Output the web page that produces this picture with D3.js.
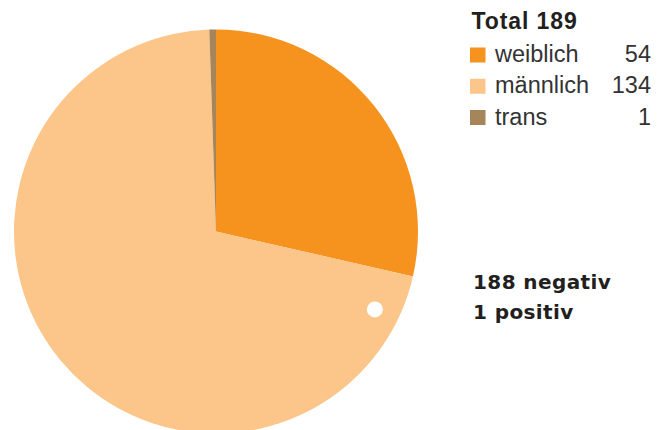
<!DOCTYPE html>
<html>
<head>
<meta charset="utf-8">
<script src="https://cdn.jsdelivr.net/npm/d3@7"></script>
<style>
  html, body { margin: 0; padding: 0; background: #fff; }
  svg { display: block; }
  text { font-family: "Liberation Sans", Arial, sans-serif; fill: #231f20; }
</style>
</head>
<body>
<svg id="chart" width="666" height="430"></svg>
<script>
// Gender breakdown of tested people
const categories = ["weiblich", "männlich", "trans"];
const counts = [54, 134, 1];
const colors = ["#f6921e", "#fcc589", "#a6855a"];
const total = 189;
const resultLabels = ["188 negativ", "1 positiv"];
const positiveCount = 1;
const positiveGroup = "männlich";

const svg = d3.select("#chart");
const cx = 216, cy = 231.5, R = 202;

const data = categories.map((c, i) => ({ name: c, value: counts[i], color: colors[i] }));

const pie = d3.pie().sort(null).value(d => d.value).startAngle(0).endAngle(2 * Math.PI);
const arcs = pie(data);
const arc = d3.arc().innerRadius(0).outerRadius(R);

const g = svg.append("g").attr("transform", `translate(${cx},${cy})`);
g.selectAll("path")
  .data(arcs)
  .join("path")
  .attr("d", arc)
  .attr("fill", d => d.data.color);

// white dot marking the positive result, placed inside its group's slice
const posArc = arcs.find(a => a.data.name === positiveGroup);
const dotAngle = posArc.startAngle + (posArc.endAngle - posArc.startAngle) * 0.052;
const [dx, dy] = d3.pointRadial(dotAngle, R * 0.876);
g.selectAll("circle.pos")
  .data(d3.range(positiveCount))
  .join("circle")
  .attr("class", "pos")
  .attr("cx", dx)
  .attr("cy", dy)
  .attr("r", 8)
  .attr("fill", "#fff");

// legend
const lg = svg.append("g");
lg.append("text")
  .attr("x", 471.5)
  .attr("y", 29)
  .attr("font-size", 23)
  .attr("font-weight", "bold")
  .attr("letter-spacing", 0.9)
  .text(`Total ${total}`);

const rowY = d3.scalePoint().domain(categories).range([62, 124.5]);
const rows = lg.selectAll("g.row")
  .data(data)
  .join("g")
  .attr("class", "row")
  .attr("transform", d => `translate(0,${rowY(d.name)})`);
rows.append("rect")
  .attr("x", 470)
  .attr("y", -14.5)
  .attr("width", 15.5)
  .attr("height", 15)
  .attr("fill", d => d.color);
rows.append("text")
  .attr("x", 495)
  .attr("y", 0)
  .attr("font-size", 23.5)
  .style("fill", "#333")
  .text(d => d.name);
rows.append("text")
  .attr("x", 651)
  .attr("y", 0)
  .attr("font-size", 23.5)
  .attr("text-anchor", "end")
  .style("fill", "#333")
  .text(d => d.value);

// test results
lg.selectAll("text.res")
  .data(resultLabels)
  .join("text")
  .attr("class", "res")
  .attr("x", 473)
  .attr("y", (d, i) => 288.5 + i * 30)
  .attr("font-size", 20)
  .attr("font-weight", "bold")
  .attr("letter-spacing", 0.4)
  .style("font-family", "'DejaVu Sans', sans-serif")
  .text(d => d);
</script>
</body>
</html>
